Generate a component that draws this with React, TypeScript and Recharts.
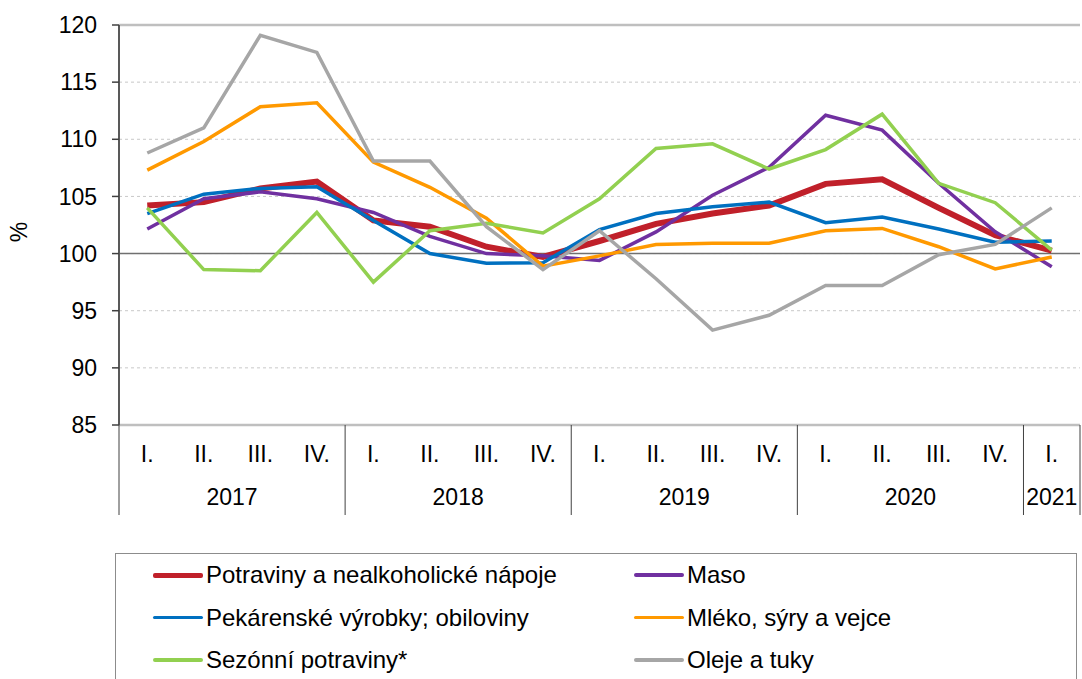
import React from 'react'
import {
  LineChart,
  Line,
  XAxis,
  YAxis,
  CartesianGrid,
  ReferenceLine,
} from 'recharts'

const quarters = ['I.', 'II.', 'III.', 'IV.', 'I.', 'II.', 'III.', 'IV.', 'I.', 'II.', 'III.', 'IV.', 'I.', 'II.', 'III.', 'IV.', 'I.']
const years = ['2017', '2017', '2017', '2017', '2018', '2018', '2018', '2018', '2019', '2019', '2019', '2019', '2020', '2020', '2020', '2020', '2021']

const potraviny = [104.2, 104.5, 105.7, 106.3, 102.9, 102.35, 100.6, 99.7, 101.1, 102.6, 103.5, 104.2, 106.1, 106.5, 104.0, 101.6, 100.25]
const maso = [102.15, 104.8, 105.4, 104.8, 103.6, 101.5, 100.0, 99.8, 99.4, 101.9, 105.1, 107.55, 112.1, 110.8, 106.15, 101.9, 98.85]
const pekarenske = [103.5, 105.2, 105.7, 105.85, 102.9, 100.0, 99.15, 99.2, 102.1, 103.5, 104.1, 104.5, 102.7, 103.2, 102.15, 101.0, 101.1]
const mleko = [107.3, 109.8, 112.85, 113.2, 108.0, 105.8, 103.1, 98.9, 99.8, 100.8, 100.9, 100.9, 102.0, 102.2, 100.6, 98.65, 99.7]
const sezonni = [104.0, 98.6, 98.5, 103.6, 97.5, 102.0, 102.65, 101.8, 104.8, 109.2, 109.6, 107.4, 109.1, 112.2, 106.15, 104.45, 100.3]
const oleje = [108.8, 111.0, 119.1, 117.6, 108.1, 108.1, 102.35, 98.6, 102.0, 97.8, 93.3, 94.6, 97.2, 97.2, 99.9, 100.8, 104.0]

const yTicks = [85, 90, 95, 100, 105, 110, 115, 120]

const series = [
  { key: 'potraviny', name: 'Potraviny a nealkoholické nápoje', color: '#C0202A', width: 6 },
  { key: 'maso', name: 'Maso', color: '#7030A0', width: 3.5 },
  { key: 'pekarenske', name: 'Pekárenské výrobky; obiloviny', color: '#0070C0', width: 3.5 },
  { key: 'mleko', name: 'Mléko, sýry a vejce', color: '#FF9900', width: 3.5 },
  { key: 'sezonni', name: 'Sezónní potraviny*', color: '#92D050', width: 3.5 },
  { key: 'oleje', name: 'Oleje a tuky', color: '#A6A6A6', width: 3.5 },
]

const data = quarters.map((q, i) => ({
  idx: i,
  q,
  year: years[i],
  potraviny: potraviny[i],
  maso: maso[i],
  pekarenske: pekarenske[i],
  mleko: mleko[i],
  sezonni: sezonni[i],
  oleje: oleje[i],
}))

const W = 1082
const H = 679
const PLOT_LEFT = 119
const PLOT_RIGHT = 1080
const BAND = (PLOT_RIGHT - PLOT_LEFT) / quarters.length
const FONT = '"Liberation Sans", Arial, sans-serif'
const FS = 23

function QuarterTick(props: any) {
  const { x, y, index } = props
  const i = index as number
  const first = i === 0 || years[i] !== years[i - 1]
  const last = i === quarters.length - 1
  let groupLen = 0
  if (first) {
    while (i + groupLen < years.length && years[i + groupLen] === years[i]) groupLen++
  }
  return (
    <g>
      <text x={x} y={y + 37} textAnchor="middle" fontSize={FS} fontFamily={FONT} fill="#000">
        {quarters[i]}
      </text>
      {first && (
        <>
          <line x1={x - BAND / 2} x2={x - BAND / 2} y1={y} y2={y + 90} stroke="#404040" strokeWidth={1} />
          <text
            x={x + ((groupLen - 1) * BAND) / 2}
            y={y + 80}
            textAnchor="middle"
            fontSize={FS}
            fontFamily={FONT}
            fill="#000"
          >
            {years[i]}
          </text>
        </>
      )}
      {last && (
        <line x1={x + BAND / 2} x2={x + BAND / 2} y1={y} y2={y + 90} stroke="#404040" strokeWidth={1} />
      )}
    </g>
  )
}

function PercentLabel() {
  return (
    <text x={27} y={232} transform="rotate(-90 27 232)" textAnchor="middle" fontSize={FS} fontFamily={FONT} fill="#000">
      %
    </text>
  )
}

function LegendBox() {
  const rows = [
    [series[0], series[1]],
    [series[2], series[3]],
    [series[4], series[5]],
  ]
  return (
    <div
      style={{
        position: 'absolute',
        left: 115,
        top: 553,
        width: 962,
        height: 140,
        border: '1.5px solid #8c8c8c',
        boxSizing: 'border-box',
        fontFamily: FONT,
        fontSize: 24,
        color: '#000',
      }}
    >
      {rows.map((row, r) =>
        row.map((s, c) => (
          <div
            key={s.key}
            style={{
              position: 'absolute',
              left: c === 0 ? 37 : 518,
              top: 8 + r * 42.5,
              height: 26,
              display: 'flex',
              alignItems: 'center',
              whiteSpace: 'nowrap',
            }}
          >
            <span
              style={{
                display: 'inline-block',
                width: 50,
                height: s.key === 'potraviny' ? 5 : 3.5,
                background: s.color,
                borderRadius: 2,
                marginRight: 3,
              }}
            />
            <span>{s.name}</span>
          </div>
        ))
      )}
    </div>
  )
}

export default function App() {
  return (
    <div style={{ position: 'absolute', left: 0, top: 0, width: W, height: H, background: '#fff', overflow: 'hidden' }}>
      <LineChart width={W} height={H} data={data} margin={{ top: 25, right: 2, left: 0, bottom: 0 }}>
        <CartesianGrid
          vertical={false}
          stroke="#C8C8C8"
          strokeDasharray="3 3"
          yAxisId="left"
        />
        <XAxis
          dataKey="idx"
          type="category"
          height={254}
          interval={0}
          padding={{ left: BAND / 2, right: BAND / 2 }}
          tickSize={0}
          tickMargin={0}
          tick={<QuarterTick />}
          axisLine={{ stroke: '#BFBFBF', strokeWidth: 2.5 }}
          tickLine={false}
        />
        <YAxis
          yAxisId="left"
          width={PLOT_LEFT}
          domain={[85, 120]}
          ticks={yTicks}
          interval={0}
          allowDataOverflow
          tick={{ fontSize: FS, fontFamily: FONT, fill: '#000' }}
          tickSize={7}
          tickMargin={15}
          axisLine={{ stroke: '#595959', strokeWidth: 2 }}
          tickLine={{ stroke: '#404040', strokeWidth: 1.5 }}
          label={<PercentLabel />}
        />
        <YAxis
          yAxisId="right"
          orientation="right"
          width={0}
          domain={[85, 120]}
          tick={false}
          tickLine={false}
          axisLine={{ stroke: '#BFBFBF', strokeWidth: 2.5 }}
        />
        <ReferenceLine yAxisId="left" y={120} stroke="#BFBFBF" strokeWidth={2.5} />
        <ReferenceLine yAxisId="left" y={100} stroke="#707070" strokeWidth={1.5} />
        {series.map((s) => (
          <Line
            key={s.key}
            yAxisId="left"
            type="linear"
            dataKey={s.key}
            name={s.name}
            stroke={s.color}
            strokeWidth={s.width}
            dot={false}
            activeDot={false}
            isAnimationActive={false}
          />
        ))}
      </LineChart>
      <LegendBox />
    </div>
  )
}
